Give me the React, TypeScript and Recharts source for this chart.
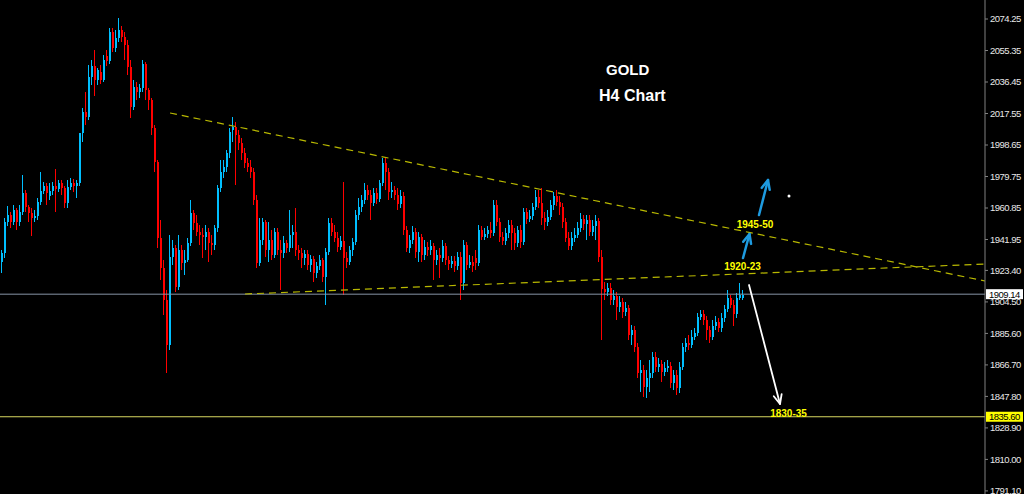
import { Bar, ComposedChart, Customized, ReferenceDot, ReferenceLine, XAxis, YAxis } from 'recharts';

// each candle: [open, high, low, close]
type Candle = [number, number, number, number];

const EARLY: Candle[] = [
  [1928.45, 1935.65, 1921.85, 1933.85], [1933.85, 1954.85, 1930.85, 1952.45], [1952.45, 1962.05, 1950.05, 1956.65],
  [1956.65, 1958.45, 1948.85, 1952.45], [1952.45, 1962.65, 1950.65, 1959.65], [1959.65, 1960.85, 1947.65, 1952.45],
  [1952.45, 1962.65, 1950.05, 1958.45], [1958.45, 1980.65, 1956.65, 1969.85], [1969.85, 1971.65, 1958.45, 1961.45],
  [1961.45, 1962.65, 1952.45, 1957.85], [1957.85, 1960.85, 1944.05, 1954.85], [1954.85, 1959.65, 1952.45, 1956.05],
  [1956.05, 1966.85, 1953.65, 1964.45], [1964.45, 1982.45, 1962.65, 1971.05], [1971.05, 1976.45, 1969.25, 1974.05],
  [1974.05, 1975.85, 1962.65, 1969.85], [1968.05, 1975.85, 1965.65, 1971.05], [1971.05, 1976.45, 1968.65, 1974.05],
  [1974.05, 1984.25, 1958.45, 1972.25], [1972.25, 1977.65, 1970.45, 1975.85], [1975.85, 1977.65, 1968.65, 1972.85],
  [1972.85, 1974.05, 1960.85, 1963.85], [1963.85, 1977.65, 1960.85, 1973.45], [1973.45, 1978.85, 1971.65, 1975.85],
  [1975.85, 1978.25, 1970.45, 1974.05], [1974.05, 1977.65, 1966.85, 1975.85]
];

const PEAK: Candle[] = [
  [1975.85, 2005.85, 1974.05, 2005.85], [2005.85, 2020.85, 2000.45, 2018.45], [2018.45, 2030.45, 2010.65, 2015.45],
  [2015.45, 2046.65, 2013.65, 2039.45], [2039.45, 2049.65, 2034.65, 2046.05], [2046.05, 2055.65, 2028.05, 2037.65],
  [2037.65, 2044.85, 2034.65, 2043.65], [2042.45, 2046.65, 2035.25, 2037.65], [2037.65, 2052.65, 2036.45, 2049.65],
  [2052.05, 2055.65, 2046.05, 2049.05], [2049.05, 2068.85, 2047.25, 2066.45], [2066.45, 2068.85, 2054.45, 2056.85],
  [2056.85, 2067.65, 2054.45, 2062.85], [2062.85, 2074.85, 2060.45, 2067.65], [2067.65, 2070.05, 2060.45, 2063.45],
  [2063.45, 2066.45, 2049.65, 2058.65], [2058.65, 2061.65, 2040.65, 2045.45]
];

const SELLOFF: Candle[] = [
  [2045.45, 2049.65, 2014.85, 2021.45], [2021.45, 2037.65, 2019.65, 2033.45], [2033.45, 2036.45, 2025.65, 2030.45],
  [2030.45, 2035.25, 2026.85, 2032.85], [2032.85, 2049.65, 2030.45, 2047.25], [2047.25, 2048.45, 2025.65, 2031.65],
  [2031.65, 2032.85, 2019.65, 2025.65], [2025.65, 2026.85, 2004.65, 2008.85], [2008.85, 2010.65, 1982.45, 1988.45],
  [1988.45, 1989.65, 1936.85, 1942.85], [1942.85, 1953.65, 1917.65, 1924.85], [1924.85, 1929.65, 1896.65, 1905.65],
  [1905.65, 1911.65, 1861.85, 1878.65], [1878.65, 1944.65, 1875.65, 1931.45]
];

const SECOND_HIGH: Candle[] = [
  [1931.45, 1941.65, 1926.65, 1936.85], [1936.85, 1938.65, 1910.45, 1913.45], [1913.45, 1944.65, 1911.65, 1935.65],
  [1935.65, 1938.65, 1923.65, 1927.85], [1927.85, 1935.65, 1920.65, 1929.65], [1929.65, 1942.85, 1928.45, 1939.85],
  [1939.85, 1965.65, 1938.05, 1957.85], [1957.85, 1959.65, 1947.65, 1951.85], [1951.85, 1956.65, 1944.05, 1946.45],
  [1946.45, 1950.65, 1938.65, 1944.65], [1944.65, 1948.85, 1930.85, 1943.45], [1943.45, 1950.65, 1935.65, 1946.45],
  [1946.45, 1948.85, 1928.45, 1939.85], [1939.85, 1944.65, 1932.65, 1938.65], [1938.65, 1950.65, 1935.65, 1948.85],
  [1948.85, 1974.65, 1946.45, 1972.85], [1972.85, 1989.65, 1970.45, 1982.45], [1982.45, 1989.65, 1978.85, 1985.45],
  [1985.45, 1995.65, 1982.45, 1993.85], [1993.85, 2008.85, 1990.85, 2006.45], [2007.65, 2015.45, 2000.45, 2009.45],
  [2009.45, 2012.45, 1974.65, 2004.65], [2004.65, 2007.65, 1995.65, 1999.85], [1999.85, 2002.85, 1989.65, 1993.85],
  [1993.85, 1996.85, 1984.85, 1987.85], [1987.85, 1990.85, 1982.45, 1985.45], [1985.45, 1989.65, 1978.85, 1982.45],
  [1982.45, 1984.85, 1962.65, 1965.65], [1965.65, 1968.65, 1924.85, 1927.85]
];

const RANGE_ONE: Candle[] = [
  [1927.85, 1954.85, 1926.05, 1941.65], [1941.65, 1954.85, 1938.65, 1952.45], [1952.45, 1953.65, 1931.45, 1935.65],
  [1935.65, 1952.45, 1928.45, 1941.65], [1941.65, 1947.65, 1929.65, 1932.65], [1932.65, 1948.85, 1930.85, 1946.45],
  [1946.45, 1948.85, 1932.65, 1935.65], [1935.65, 1941.65, 1911.65, 1933.85], [1933.85, 1944.05, 1930.85, 1939.85],
  [1939.85, 1941.65, 1933.85, 1936.85], [1936.85, 1959.65, 1934.45, 1944.65], [1944.65, 1950.65, 1936.85, 1946.45],
  [1946.45, 1960.85, 1932.05, 1935.65], [1935.65, 1938.65, 1929.65, 1933.85], [1933.85, 1936.85, 1924.85, 1930.85],
  [1930.85, 1935.65, 1926.65, 1933.25], [1933.25, 1935.65, 1923.65, 1926.65], [1926.65, 1932.65, 1922.45, 1930.25],
  [1930.25, 1932.05, 1916.45, 1921.85], [1921.85, 1928.45, 1918.85, 1926.05], [1926.05, 1932.65, 1923.65, 1929.65],
  [1929.65, 1930.85, 1916.45, 1919.45], [1919.45, 1936.85, 1902.65, 1934.45], [1934.45, 1954.85, 1932.65, 1951.85],
  [1951.85, 1954.85, 1944.05, 1946.45], [1946.45, 1950.65, 1940.45, 1942.85], [1942.85, 1946.45, 1934.45, 1937.45],
  [1937.45, 1944.05, 1935.65, 1941.05], [1941.05, 1976.45, 1908.65, 1930.85], [1930.85, 1934.45, 1924.85, 1928.45],
  [1928.45, 1938.05, 1926.65, 1935.65], [1935.65, 1942.85, 1932.05, 1940.45]
];

const THIRD_HIGH: Candle[] = [
  [1940.45, 1959.65, 1938.65, 1956.65], [1956.65, 1966.85, 1953.65, 1961.45], [1961.45, 1968.65, 1958.45, 1965.65],
  [1965.65, 1975.85, 1963.25, 1971.65], [1971.65, 1974.65, 1965.65, 1968.65], [1968.65, 1971.65, 1953.65, 1963.85],
  [1963.85, 1972.85, 1962.05, 1969.85], [1969.85, 1972.85, 1963.25, 1966.25], [1966.25, 1977.65, 1964.45, 1975.85],
  [1975.85, 1990.85, 1974.05, 1987.85], [1987.85, 1990.85, 1971.65, 1982.45], [1982.45, 1984.85, 1965.65, 1970.45],
  [1970.45, 1976.45, 1966.85, 1971.65], [1971.65, 1974.05, 1965.65, 1968.65], [1968.65, 1972.85, 1959.65, 1963.25],
  [1963.25, 1971.65, 1960.85, 1968.05], [1968.05, 1970.45, 1944.65, 1947.65], [1947.65, 1950.05, 1934.45, 1936.85],
  [1936.85, 1944.65, 1933.85, 1941.65], [1941.65, 1950.05, 1939.25, 1946.45], [1946.45, 1948.85, 1930.85, 1934.45],
  [1934.45, 1946.45, 1928.45, 1943.45], [1943.45, 1945.25, 1928.45, 1932.65], [1932.65, 1941.65, 1929.65, 1937.45],
  [1937.45, 1940.45, 1932.05, 1935.65], [1935.65, 1941.65, 1932.65, 1938.05], [1938.05, 1939.85, 1917.65, 1929.65],
  [1929.65, 1935.65, 1926.65, 1932.65], [1932.65, 1936.85, 1918.85, 1930.85], [1930.85, 1941.65, 1928.45, 1938.05],
  [1938.05, 1939.85, 1926.65, 1929.65], [1929.65, 1932.05, 1923.65, 1927.25], [1927.25, 1932.05, 1924.85, 1929.05],
  [1929.05, 1932.05, 1922.45, 1926.05], [1926.05, 1934.45, 1923.65, 1931.45], [1931.45, 1934.45, 1905.65, 1915.85],
  [1915.85, 1941.65, 1911.65, 1938.65], [1938.65, 1940.45, 1923.65, 1926.65], [1926.65, 1932.65, 1924.85, 1928.45],
  [1928.45, 1932.05, 1922.45, 1926.05], [1930.85, 1935.65, 1923.65, 1927.85]
];

const FOURTH_HIGH: Candle[] = [
  [1927.85, 1950.65, 1926.05, 1947.65], [1947.65, 1950.05, 1941.65, 1943.45], [1943.45, 1948.85, 1941.65, 1945.25],
  [1945.25, 1950.05, 1942.85, 1947.65], [1947.65, 1952.45, 1942.85, 1945.85], [1945.85, 1965.65, 1944.05, 1962.65],
  [1962.65, 1965.65, 1950.05, 1952.45], [1952.45, 1954.85, 1940.45, 1943.45], [1943.45, 1946.45, 1938.65, 1941.05],
  [1941.05, 1948.85, 1938.65, 1945.85], [1945.85, 1953.65, 1942.85, 1950.65], [1950.65, 1953.65, 1935.65, 1945.85],
  [1945.85, 1948.85, 1935.65, 1939.85], [1939.85, 1950.05, 1937.45, 1947.65], [1947.65, 1950.65, 1936.85, 1940.45],
  [1940.45, 1960.85, 1938.65, 1958.45], [1958.45, 1960.85, 1951.25, 1954.25], [1954.25, 1959.65, 1952.45, 1956.05],
  [1956.05, 1963.85, 1953.65, 1961.45], [1961.45, 1971.65, 1959.65, 1967.45], [1967.45, 1971.65, 1960.85, 1963.85],
  [1963.85, 1972.85, 1950.65, 1954.85], [1954.85, 1958.45, 1947.65, 1952.45], [1952.45, 1959.65, 1950.05, 1955.45],
  [1955.45, 1965.65, 1953.65, 1962.65], [1962.65, 1970.45, 1959.65, 1968.05], [1968.05, 1971.65, 1962.05, 1964.45],
  [1964.45, 1968.05, 1956.65, 1961.45], [1961.45, 1963.85, 1948.85, 1952.45], [1952.45, 1954.85, 1940.45, 1942.85],
  [1942.85, 1946.45, 1935.65, 1938.05], [1938.05, 1946.45, 1935.65, 1942.85], [1942.85, 1948.85, 1940.45, 1944.65],
  [1944.65, 1952.45, 1942.85, 1948.85], [1948.85, 1957.85, 1946.45, 1954.25], [1954.25, 1956.65, 1947.65, 1951.25],
  [1951.25, 1956.65, 1941.65, 1953.65], [1953.65, 1956.65, 1944.05, 1946.45], [1946.45, 1953.65, 1944.05, 1950.05],
  [1950.05, 1956.65, 1941.65, 1953.05], [1953.05, 1954.85, 1928.45, 1931.45]
];

const BREAKDOWN: Candle[] = [
  [1931.45, 1935.65, 1881.65, 1912.25], [1912.25, 1916.45, 1905.65, 1910.45], [1910.45, 1915.85, 1908.05, 1912.85],
  [1912.85, 1915.85, 1902.65, 1905.65], [1905.65, 1911.65, 1902.65, 1908.05], [1908.05, 1910.45, 1893.65, 1901.45],
  [1901.45, 1908.05, 1898.45, 1904.45], [1904.45, 1906.85, 1894.85, 1898.45], [1898.45, 1904.45, 1896.05, 1900.85],
  [1900.85, 1902.65, 1881.65, 1884.65], [1884.65, 1890.65, 1878.65, 1887.65], [1887.65, 1890.05, 1874.45, 1877.45],
  [1877.45, 1879.85, 1858.85, 1861.85], [1861.85, 1869.65, 1850.45, 1863.65], [1863.65, 1866.65, 1847.45, 1853.45],
  [1853.45, 1863.65, 1846.85, 1858.85], [1858.85, 1869.65, 1850.45, 1861.85], [1861.85, 1874.45, 1858.85, 1871.45],
  [1871.45, 1874.45, 1862.45, 1865.45], [1865.45, 1870.85, 1862.45, 1867.25], [1867.25, 1869.65, 1856.45, 1862.45],
  [1862.45, 1868.45, 1860.05, 1864.85], [1864.85, 1869.65, 1862.45, 1866.05], [1866.05, 1868.45, 1852.85, 1855.85],
  [1855.85, 1863.65, 1851.65, 1860.65], [1860.65, 1863.65, 1848.65, 1852.85], [1852.85, 1868.45, 1849.85, 1865.45]
];

const RECOVERY: Candle[] = [
  [1865.45, 1879.85, 1863.65, 1877.45], [1877.45, 1882.85, 1874.45, 1879.85], [1879.85, 1884.65, 1875.65, 1878.65],
  [1878.65, 1887.65, 1876.85, 1883.45], [1883.45, 1888.85, 1881.65, 1885.85], [1885.85, 1897.85, 1884.05, 1895.45],
  [1895.45, 1899.65, 1893.65, 1897.25], [1897.25, 1899.65, 1890.65, 1893.65], [1893.65, 1896.05, 1881.65, 1887.65],
  [1887.65, 1890.05, 1879.85, 1883.45], [1883.45, 1893.65, 1881.65, 1890.05], [1890.05, 1896.05, 1887.65, 1892.45],
  [1892.45, 1894.85, 1886.45, 1888.85], [1888.85, 1897.85, 1886.45, 1894.85], [1894.85, 1902.65, 1892.45, 1900.25],
  [1900.25, 1911.65, 1898.45, 1906.85], [1906.85, 1908.65, 1900.85, 1902.65], [1902.65, 1905.65, 1890.05, 1897.25],
  [1897.25, 1909.85, 1894.85, 1906.85], [1906.85, 1915.85, 1905.65, 1908.65], [1906.85, 1911.65, 1905.65, 1908.65]
];

const CANDLES: Candle[] = [
  ...EARLY, ...PEAK, ...SELLOFF, ...SECOND_HIGH, ...RANGE_ONE,
  ...THIRD_HIGH, ...FOURTH_HIGH, ...BREAKDOWN, ...RECOVERY
];

const PRICE_TICKS = [
  2074.25, 2055.35, 2036.45, 2017.55, 1998.65, 1979.75, 1960.85, 1941.95,
  1923.4, 1904.5, 1885.6, 1866.7, 1847.8, 1828.9, 1810.0, 1791.1
];

const LAST_PRICE = 1909.14;
const TARGET_LEVEL = 1835.6;

// trend lines, as [bar index, price]
const UPPER_TREND = [[56.17, 2017.85], [327.83, 1917.05]];
const LOWER_TREND = [[81.17, 1909.25], [327.83, 1927.25]];

const ARROWS = [
  { from: [247.17, 1930.85], to: [249.33, 1945.25], color: '#1e9be0', width: 2.5 },
  { from: [252.5, 1956.65], to: [255.5, 1977.65], color: '#1e9be0', width: 2.5 },
  { from: [249.17, 1914.65], to: [259.5, 1843.25], color: '#ffffff', width: 1.8 }
];

const TAGS = [
  { text: '1945-50', bar: 251.17, price: 1951.25 },
  { text: '1920-23', bar: 247, price: 1926.05 },
  { text: '1830-35', bar: 262.33, price: 1837.85 }
];

const BULL = '#00bfff';
const BEAR = '#ff0000';
const AXIS_FONT = '"Liberation Sans", Arial, sans-serif';

const rows = CANDLES.map(([open, high, low, close], i) => ({
  i,
  open,
  high,
  low,
  close,
  range: [low, high]
}));

function CandleShape(props: any) {
  const { x, y, width, height, payload } = props;
  if (!payload || x == null) return null;
  const { open, high, low, close } = payload;
  const top = Math.min(y, y + height);
  const span = Math.abs(height);
  const k = span / (high - low || 1);
  const left = Math.floor(x + width / 2) - 1;
  const bodyTop = top + (high - Math.max(open, close)) * k;
  const bodyH = Math.max(1, Math.abs(open - close) * k);
  const color = close >= open ? BULL : BEAR;
  return (
    <g>
      <line x1={left + 0.5} x2={left + 0.5} y1={top} y2={top + span} stroke={color} strokeWidth={1} />
      <rect x={left} y={bodyTop} width={2} height={bodyH} fill={color} />
    </g>
  );
}

function arrowShape(color: string, width: number) {
  return (props: any) => {
    const { x1, y1, x2, y2 } = props;
    const a = Math.atan2(y2 - y1, x2 - x1);
    const len = 10;
    const s = 0.42;
    const p1 = `${x2 - len * Math.cos(a - s)},${y2 - len * Math.sin(a - s)}`;
    const p2 = `${x2 - len * Math.cos(a + s)},${y2 - len * Math.sin(a + s)}`;
    return (
      <g>
        <line x1={x1} y1={y1} x2={x2} y2={y2} stroke={color} strokeWidth={width} strokeLinecap="round" />
        <polyline points={`${p1} ${x2},${y2} ${p2}`} fill="none" stroke={color} strokeWidth={width} strokeLinecap="round" strokeLinejoin="round" />
      </g>
    );
  };
}

function priceBox(value: number, bg: string) {
  return (props: any) => {
    const vb = props.viewBox || {};
    const x = (vb.x ?? 0) + (vb.width ?? 0);
    const y = vb.y ?? 0;
    return (
      <g>
        <rect x={x + 1} y={y - 5} width={37} height={10} fill={bg} />
        <text x={x + 4} y={y} dy="0.36em" fontSize={9.5} letterSpacing={-0.5} fontFamily={AXIS_FONT} fill="#000">
          {value.toFixed(2)}
        </text>
      </g>
    );
  };
}

function Title() {
  return (
    <g fontFamily='"Liberation Sans", Arial, sans-serif' fontWeight="bold" fill="#ffffff">
      <text x={606} y={75} fontSize={15}>GOLD</text>
      <text x={599} y={101} fontSize={16}>H4 Chart</text>
    </g>
  );
}

export default function App() {
  return (
    <div style={{ position: 'absolute', left: 0, top: 0, width: 1024, height: 494, background: '#000' }}>
      <ComposedChart width={1024} height={494} data={rows} margin={{ top: 0, right: 0, bottom: 0, left: 0 }}>
        <XAxis type="number" dataKey="i" domain={[-0.5, 327.83]} hide allowDataOverflow />
        <YAxis
          orientation="right"
          domain={[1789.25, 2085.65]}
          ticks={PRICE_TICKS}
          interval={0}
          allowDataOverflow
          width={39}
          stroke="#808080"
          tickSize={3}
          tickMargin={2}
          tick={{ fill: '#e8e8e8', fontSize: 9.5, letterSpacing: -0.5, fontFamily: AXIS_FONT }}
          tickFormatter={(v: number) => v.toFixed(2)}
        />
        <ReferenceLine y={LAST_PRICE} stroke="#8795a6" strokeWidth={1} label={priceBox(LAST_PRICE, '#ffffff')} />
        <ReferenceLine y={TARGET_LEVEL} stroke="#d8d860" strokeWidth={1} label={priceBox(TARGET_LEVEL, '#ffff00')} />
        <ReferenceLine
          segment={UPPER_TREND.map(([x, y]) => ({ x, y }))}
          stroke="#b8b800"
          strokeWidth={1.2}
          strokeDasharray="7 5"
          ifOverflow="visible"
        />
        <ReferenceLine
          segment={LOWER_TREND.map(([x, y]) => ({ x, y }))}
          stroke="#b8b800"
          strokeWidth={1.2}
          strokeDasharray="7 5"
          ifOverflow="visible"
        />
        <Bar dataKey="range" shape={CandleShape} barSize={2} isAnimationActive={false} />
        {ARROWS.map((a, k) => (
          <ReferenceLine
            key={k}
            segment={[{ x: a.from[0], y: a.from[1] }, { x: a.to[0], y: a.to[1] }]}
            ifOverflow="visible"
            shape={arrowShape(a.color, a.width)}
          />
        ))}
        <ReferenceDot x={262.5} y={1968.05} r={1.5} fill="#ffffff" stroke="none" />
        {TAGS.map((t) => (
          <ReferenceDot
            key={t.text}
            x={t.bar}
            y={t.price}
            r={0}
            shape={(p: any) => (
              <text
                x={p.cx}
                y={p.cy}
                dy="0.36em"
                textAnchor="middle"
                fontSize={10}
                fontWeight="bold"
                fontFamily='"Liberation Sans", Arial, sans-serif'
                fill="#ffff00"
              >
                {t.text}
              </text>
            )}
          />
        ))}
        <Customized component={Title} />
      </ComposedChart>
    </div>
  );
}
